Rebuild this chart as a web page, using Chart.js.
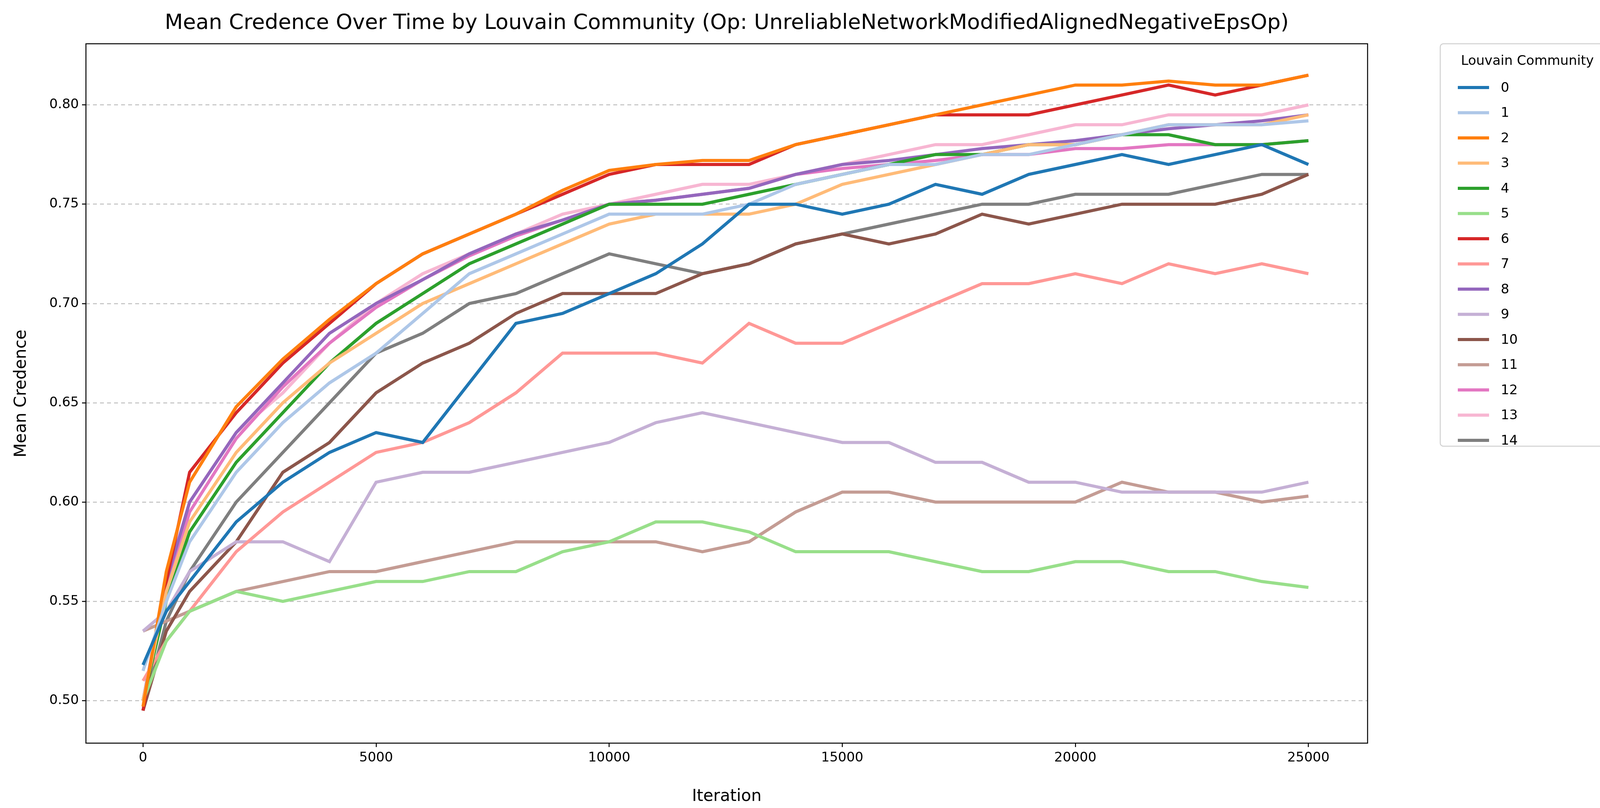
<!DOCTYPE html>
<html><head><meta charset="utf-8">
<script src="https://cdn.jsdelivr.net/npm/chart.js@4"></script>
<style>body{margin:0;background:#fff}#c{display:block}</style>
</head><body>
<div style="width:4165px;height:2068px"><canvas id="c"></canvas></div>
<script>
// iterations sampled from the plot
var iterations = [0,500,1000,2000,3000,4000,5000,6000,7000,8000,9000,10000,11000,12000,13000,14000,15000,16000,17000,18000,19000,20000,21000,22000,23000,24000,25000];
var communities = ['0','1','2','3','4','5','6','7','8','9','10','11','12','13','14'];
var colors = ['#1f77b4','#aec7e8','#ff7f0e','#ffbb78','#2ca02c','#98df8a','#d62728','#ff9896','#9467bd','#c5b0d5','#8c564b','#c49c94','#e377c2','#f7b6d2','#7f7f7f'];

var c0  = [0.518,0.545,0.560,0.590,0.610,0.625,0.635,0.630,0.660,0.690,0.695,0.705,0.715,0.730,0.750,0.750,0.745,0.750,0.760,0.755,0.765,0.770,0.775,0.770,0.775,0.780,0.770];
var c1  = [0.515,0.550,0.580,0.615,0.640,0.660,0.675,0.695,0.715,0.725,0.735,0.745,0.745,0.745,0.750,0.760,0.765,0.770,0.770,0.775,0.775,0.780,0.785,0.790,0.790,0.790,0.792];
var c2  = [0.497,0.565,0.610,0.648,0.672,0.692,0.710,0.725,0.735,0.745,0.757,0.767,0.770,0.772,0.772,0.780,0.785,0.790,0.795,0.800,0.805,0.810,0.810,0.812,0.810,0.810,0.815];
var c3  = [0.500,0.555,0.590,0.625,0.650,0.670,0.685,0.700,0.710,0.720,0.730,0.740,0.745,0.745,0.745,0.750,0.760,0.765,0.770,0.775,0.780,0.780,0.785,0.790,0.790,0.790,0.795];
var c4  = [0.500,0.550,0.585,0.620,0.645,0.670,0.690,0.705,0.720,0.730,0.740,0.750,0.750,0.750,0.755,0.760,0.765,0.770,0.775,0.775,0.780,0.780,0.785,0.785,0.780,0.780,0.782];
var c5  = [0.500,0.530,0.545,0.555,0.550,0.555,0.560,0.560,0.565,0.565,0.575,0.580,0.590,0.590,0.585,0.575,0.575,0.575,0.570,0.565,0.565,0.570,0.570,0.565,0.565,0.560,0.557];
var c6  = [0.495,0.560,0.615,0.645,0.670,0.690,0.710,0.725,0.735,0.745,0.755,0.765,0.770,0.770,0.770,0.780,0.785,0.790,0.795,0.795,0.795,0.800,0.805,0.810,0.805,0.810,0.815];
var c7  = [0.510,0.530,0.545,0.575,0.595,0.610,0.625,0.630,0.640,0.655,0.675,0.675,0.675,0.670,0.690,0.680,0.680,0.690,0.700,0.710,0.710,0.715,0.710,0.720,0.715,0.720,0.715];
var c8  = [0.500,0.560,0.600,0.635,0.660,0.685,0.700,0.712,0.725,0.735,0.742,0.750,0.752,0.755,0.758,0.765,0.770,0.772,0.775,0.778,0.780,0.782,0.785,0.788,0.790,0.792,0.795];
var c9  = [0.535,0.545,0.565,0.580,0.580,0.570,0.610,0.615,0.615,0.620,0.625,0.630,0.640,0.645,0.640,0.635,0.630,0.630,0.620,0.620,0.610,0.610,0.605,0.605,0.605,0.605,0.610];
var c10 = [0.495,0.535,0.555,0.580,0.615,0.630,0.655,0.670,0.680,0.695,0.705,0.705,0.705,0.715,0.720,0.730,0.735,0.730,0.735,0.745,0.740,0.745,0.750,0.750,0.750,0.755,0.765];
var c11 = [0.535,0.540,0.545,0.555,0.560,0.565,0.565,0.570,0.575,0.580,0.580,0.580,0.580,0.575,0.580,0.595,0.605,0.605,0.600,0.600,0.600,0.600,0.610,0.605,0.605,0.600,0.603];
var c12 = [0.500,0.555,0.595,0.632,0.658,0.680,0.698,0.712,0.724,0.734,0.742,0.750,0.752,0.755,0.758,0.765,0.768,0.770,0.772,0.775,0.775,0.778,0.778,0.780,0.780,0.780,0.782];
var c13 = [0.500,0.560,0.600,0.635,0.655,0.680,0.700,0.715,0.725,0.735,0.745,0.750,0.755,0.760,0.760,0.765,0.770,0.775,0.780,0.780,0.785,0.790,0.790,0.795,0.795,0.795,0.800];
var c14 = [0.495,0.540,0.565,0.600,0.625,0.650,0.675,0.685,0.700,0.705,0.715,0.725,0.720,0.715,0.720,0.730,0.735,0.740,0.745,0.750,0.750,0.755,0.755,0.755,0.760,0.765,0.765];
var series = [c0,c1,c2,c3,c4,c5,c6,c7,c8,c9,c10,c11,c12,c13,c14];

var FONT = 'DejaVu Sans';
var datasets = series.map(function (vals, i) {
  return {
    label: communities[i],
    data: vals.map(function (v, j) { return {x: iterations[j], y: v}; }),
    borderColor: colors[i],
    backgroundColor: colors[i],
    borderWidth: 8,
    pointRadius: 0,
    tension: 0
  };
});

var frame = {
  id: 'frame',
  afterDraw: function (chart) {
    var ctx = chart.ctx, a = chart.chartArea;
    ctx.save();
    ctx.strokeStyle = '#000';
    ctx.lineWidth = 2.5;
    ctx.strokeRect(a.left, a.top, a.right - a.left, a.bottom - a.top);
    // title
    ctx.fillStyle = '#000';
    ctx.font = '54px ' + FONT;
    ctx.textAlign = 'center';
    ctx.textBaseline = 'middle';
    ctx.fillText('Mean Credence Over Time by Louvain Community (Op: UnreliableNetworkModifiedAlignedNegativeEpsOp)', (a.left + a.right) / 2, 60);
    // legend
    var lx = 3687, ly = 112, lw = 446, lh = 1030;
    ctx.fillStyle = '#fff';
    ctx.strokeStyle = '#d0d0d0';
    ctx.lineWidth = 2.5;
    ctx.beginPath();
    ctx.roundRect(lx, ly, lw, lh, 8);
    ctx.fill(); ctx.stroke();
    ctx.fillStyle = '#000';
    ctx.font = '34px ' + FONT;
    ctx.fillText('Louvain Community', lx + lw / 2, ly + 45);
    ctx.textAlign = 'left';
    chart.data.datasets.forEach(function (ds, i) {
      var y = ly + 112 + i * 64.5;
      ctx.strokeStyle = ds.borderColor;
      ctx.lineWidth = 8;
      ctx.beginPath();
      ctx.moveTo(lx + 45, y); ctx.lineTo(lx + 125, y);
      ctx.stroke();
      ctx.fillStyle = '#000';
      ctx.fillText(ds.label, lx + 155, y + 2);
    });
    ctx.restore();
  }
};

new Chart(document.getElementById('c'), {
  type: 'line',
  data: {datasets: datasets},
  plugins: [frame],
  options: {
    responsive: true,
    maintainAspectRatio: false,
    animation: false,
    layout: {padding: {left: 0, right: 664, top: 112, bottom: 0}},
    plugins: {legend: {display: false}, title: {display: false}, tooltip: {enabled: false}},
    scales: {
      x: {
        type: 'linear', min: -1224, max: 26269,
        afterBuildTicks: function (s) { s.ticks = [0,5000,10000,15000,20000,25000].map(function (v) { return {value: v}; }); },
        afterFit: function (s) { s.height = 166; },
        grid: {drawOnChartArea: false, color: '#000', tickLength: 10, lineWidth: 2.5},
        border: {display: false},
        ticks: {color: '#000', font: {family: FONT, size: 34}, padding: 8, maxRotation: 0, callback: function (v) { return v; }},
        title: {display: true, text: 'Iteration', color: '#000', font: {family: FONT, size: 42}, padding: {top: 0}}
      },
      y: {
        min: 0.4786, max: 0.8308,
        afterBuildTicks: function (s) { s.ticks = [0.50,0.55,0.60,0.65,0.70,0.75,0.80].map(function (v) { return {value: v}; }); },
        afterFit: function (s) { s.width = 220; },
        grid: {color: '#c0c0c0', lineWidth: 2.5, tickLength: 10, tickColor: '#000'},
        border: {display: false, dash: [10, 8]},
        ticks: {color: '#000', font: {family: FONT, size: 34}, padding: 8, callback: function (v) { return v.toFixed(2); }},
        title: {display: true, text: 'Mean Credence', color: '#000', font: {family: FONT, size: 42}, padding: {top: 30, bottom: 0}}
      }
    }
  }
});
</script>
</body></html>
